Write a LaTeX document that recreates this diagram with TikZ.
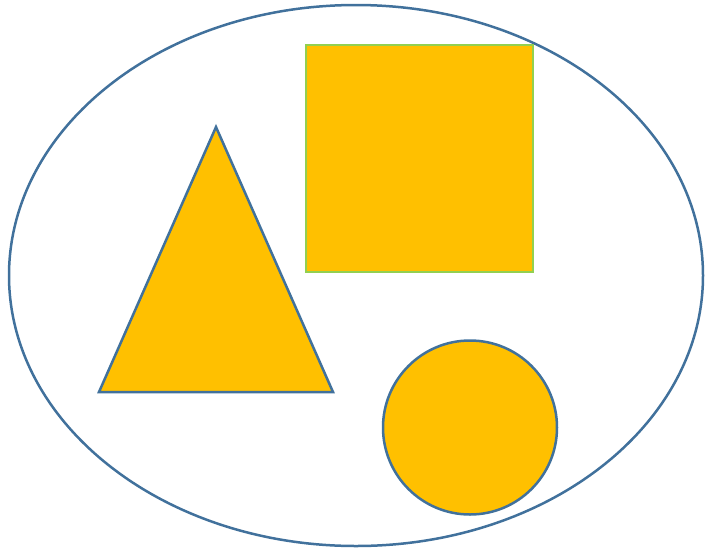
\documentclass[tikz,border=0pt]{standalone}
\usepackage{xcolor}
\usepackage{tikz}
\usetikzlibrary{shapes.geometric, positioning, calc}
\definecolor{outlineblue}{HTML}{41719C}
\definecolor{shapeyellow}{HTML}{FFC000}
\definecolor{edgegreen}{HTML}{92D050}
\tikzstyle{outer} = [ellipse, draw=outlineblue, line width=2.5pt, minimum width=694pt, minimum height=541pt, inner sep=0pt]
\tikzstyle{solid shape} = [fill=shapeyellow, line width=2.5pt, inner sep=0pt]

\begin{document}
\begin{tikzpicture}[x=1pt, y=-1pt]
    \useasboundingbox (0,0) rectangle (707,550);
    % Outer ellipse
    \node[outer] (frame) at (356,275.5) {};
    
    % Square
    \node[solid shape, rectangle, draw=edgegreen, minimum width=227pt, minimum height=227pt] (square) at (419.5,158.5) {};
    
    % Triangle
    \coordinate (apex) at (216,127);
    \coordinate (left) at (99,392);
    \coordinate (right) at (333,392);
    \draw[solid shape, draw=outlineblue, line join=miter] (apex) -- (right) -- (left) -- cycle;
    
    % Circle
    \node[solid shape, circle, draw=outlineblue, minimum size=174pt] (disc) at (470,427.5) {};
\end{tikzpicture}
\end{document}
